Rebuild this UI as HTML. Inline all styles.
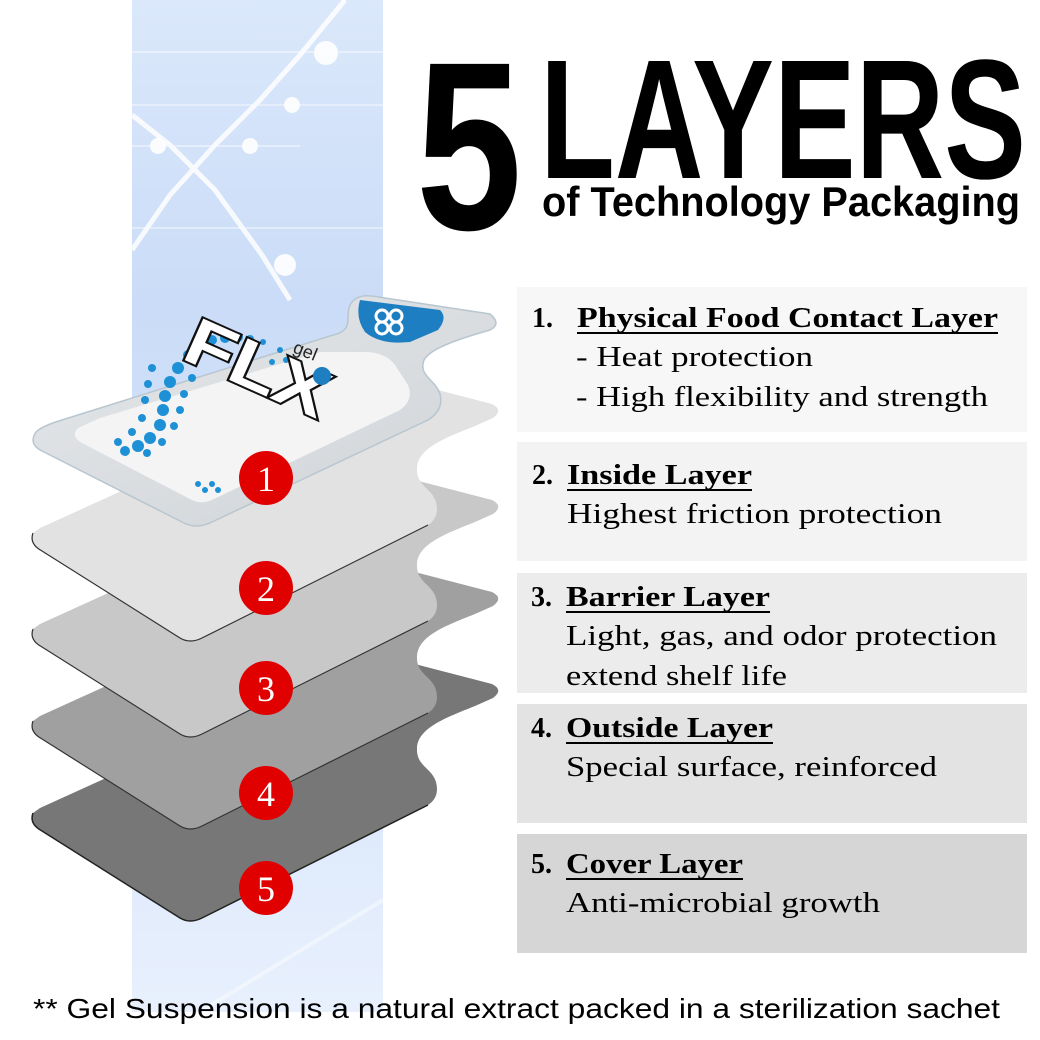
<!DOCTYPE html>
<html><head><meta charset="utf-8"><style>
html,body{margin:0;padding:0;background:#fff;}
svg{display:block;}
</style></head><body>
<svg width="1040" height="1040" viewBox="0 0 1040 1040" xmlns="http://www.w3.org/2000/svg">
<defs>
<linearGradient id="bg" x1="0" y1="0" x2="0" y2="1">
<stop offset="0" stop-color="#dbe8fb"/><stop offset="0.3" stop-color="#cadcf7"/><stop offset="0.7" stop-color="#d8e6fa"/><stop offset="1" stop-color="#e8f0fd"/>
</linearGradient>
<linearGradient id="sach" x1="0" y1="0" x2="1" y2="1">
<stop offset="0" stop-color="#e6e8ea"/><stop offset="1" stop-color="#cfd3d7"/>
</linearGradient>
</defs>
<rect x="132" y="0" width="251" height="1012" fill="url(#bg)"/>
<g stroke="#fff" fill="none" opacity="0.85">
<path d="M345,0 L300,55 L260,100 L215,145 L170,195 L132,250" stroke-width="5"/>
<path d="M132,115 L170,145 L215,190 L262,255 L290,300" stroke-width="5"/>
<path d="M132,52 L383,52 M132,105 L383,105 M132,146 L300,146 M132,228 L383,228" stroke-width="1.5" opacity="0.6"/>
<path d="M150,560 L383,420 M132,700 L383,820 M200,1012 L383,900" stroke-width="4" opacity="0.5"/>
</g>
<g fill="#fff" opacity="0.9"><circle cx="326" cy="53" r="12"/><circle cx="292" cy="105" r="8"/><circle cx="158" cy="146" r="8"/><circle cx="250" cy="146" r="8"/><circle cx="285" cy="265" r="11"/></g>

<g id="layers">
<path d="M33,813 Q29,824 42,831 L180,918 Q190,924 202,918 L428,805 Q440,797 436,782 C432,768 416,766 417,748 C418,728 445,718 475,706 L493,698 Q504,690 492,684 L380,655 L300,690 L40,808 Z" fill="#777"/>
<path d="M33,813 Q29,824 42,831 L180,918 Q190,924 202,918 L428,805" fill="none" stroke="#222" stroke-width="1.5"/>
<g transform="translate(0,-92)">
<path d="M33,813 Q29,824 42,831 L180,918 Q190,924 202,918 L428,805 Q440,797 436,782 C432,768 416,766 417,748 C418,728 445,718 475,706 L493,698 Q504,690 492,684 L380,655 L300,690 L40,808 Z" fill="#a0a0a0"/>
<path d="M33,813 Q29,824 42,831 L180,918 Q190,924 202,918 L428,805" fill="none" stroke="#333" stroke-width="1.2"/>
</g>
<g transform="translate(0,-184)">
<path d="M33,813 Q29,824 42,831 L180,918 Q190,924 202,918 L428,805 Q440,797 436,782 C432,768 416,766 417,748 C418,728 445,718 475,706 L493,698 Q504,690 492,684 L380,655 L300,690 L40,808 Z" fill="#c8c8c8"/>
<path d="M33,813 Q29,824 42,831 L180,918 Q190,924 202,918 L428,805" fill="none" stroke="#333" stroke-width="1.2"/>
</g>
<g transform="translate(0,-280)">
<path d="M33,813 Q29,824 42,831 L180,918 Q190,924 202,918 L428,805 Q440,797 436,782 C432,768 416,766 417,748 C418,728 445,718 475,706 L493,698 Q504,690 492,684 L380,655 L300,690 L40,808 Z" fill="#e2e2e2"/>
<path d="M33,813 Q29,824 42,831 L180,918 Q190,924 202,918 L428,805" fill="none" stroke="#333" stroke-width="1.2"/>
</g>
</g>

<!-- sachet -->
<path d="M36,432 Q28,444 42,451 L182,522 Q196,530 212,522 L428,420 Q444,410 440,394 C436,380 418,376 424,360 C430,348 462,338 490,330 Q502,324 490,314 L372,296 Q356,294 350,305 C344,320 356,330 330,336 L62,420 Q42,426 36,432 Z" fill="url(#sach)" stroke="#b8c6d0" stroke-width="1.5"/>
<path d="M78,428 Q70,436 82,443 L192,500 Q202,505 214,499 L400,410 Q414,400 408,385 L395,365 Q385,352 365,352 L320,352 L100,418 Z" fill="#f4f4f4"/>
<path d="M360,300 L440,310 Q448,318 438,330 L410,342 Q380,345 365,332 Q355,318 360,300 Z" fill="#1d7fc2"/>
<g stroke="#fff" stroke-width="3" fill="none"><circle cx="382" cy="316" r="6"/><circle cx="396" cy="316" r="6"/><circle cx="382" cy="328" r="6"/><circle cx="396" cy="328" r="6"/></g>
<g fill="#1e90d6">
<circle cx="200" cy="345" r="5"/><circle cx="212" cy="340" r="5"/><circle cx="225" cy="338" r="5"/><circle cx="238" cy="337" r="5"/><circle cx="250" cy="339" r="4"/><circle cx="263" cy="342" r="3"/>
<circle cx="188" cy="355" r="5"/><circle cx="178" cy="368" r="6"/><circle cx="170" cy="382" r="6"/><circle cx="165" cy="396" r="6"/><circle cx="163" cy="410" r="6"/><circle cx="160" cy="425" r="6"/><circle cx="150" cy="438" r="6"/><circle cx="138" cy="446" r="6"/><circle cx="125" cy="451" r="5"/>
<circle cx="192" cy="378" r="4"/><circle cx="184" cy="394" r="4"/><circle cx="180" cy="410" r="4"/><circle cx="174" cy="426" r="4"/><circle cx="162" cy="442" r="4"/><circle cx="147" cy="453" r="4"/>
<circle cx="152" cy="368" r="4"/><circle cx="148" cy="384" r="4"/><circle cx="145" cy="400" r="4"/><circle cx="142" cy="418" r="4"/><circle cx="132" cy="432" r="4"/><circle cx="118" cy="442" r="4"/>
<circle cx="205" cy="490" r="3"/><circle cx="212" cy="484" r="3"/><circle cx="198" cy="484" r="3"/><circle cx="218" cy="490" r="3"/><circle cx="280" cy="350" r="3"/><circle cx="272" cy="362" r="3"/><circle cx="286" cy="360" r="3"/>
</g>
<text x="0" y="0" transform="translate(180,358) rotate(24)" font-family="Liberation Sans, sans-serif" font-weight="bold" font-size="66" fill="#fff" stroke="#111" stroke-width="4" paint-order="stroke" textLength="150" lengthAdjust="spacingAndGlyphs">FLX</text>
<text x="0" y="0" transform="translate(292,352) rotate(22)" font-family="Liberation Sans, sans-serif" font-size="18" fill="#222">gel</text>
<circle cx="322" cy="376" r="9" fill="#1d7fc2"/>

<g fill="#e00000">
<circle cx="266" cy="478" r="27"/><circle cx="266" cy="588" r="27"/><circle cx="266" cy="688" r="27"/><circle cx="266" cy="793" r="27"/><circle cx="266" cy="888" r="27"/>
</g>
<g fill="#fff" font-family="Liberation Serif, serif" font-size="36" text-anchor="middle">
<text x="266" y="491">1</text><text x="266" y="601">2</text><text x="266" y="701">3</text><text x="266" y="806">4</text><text x="266" y="901">5</text>
</g>

<text x="416" y="229" font-family="Liberation Sans Narrow, Liberation Sans, sans-serif" font-weight="bold" font-size="240" textLength="106" lengthAdjust="spacingAndGlyphs">5</text>
<text x="540" y="178" font-family="Liberation Sans Narrow, Liberation Sans, sans-serif" font-weight="bold" font-size="170" textLength="486" lengthAdjust="spacingAndGlyphs">LAYERS</text>
<text x="542" y="216" font-family="Liberation Sans Narrow, Liberation Sans, sans-serif" font-weight="bold" font-size="42" textLength="478" lengthAdjust="spacingAndGlyphs">of Technology Packaging</text>

<rect x="517" y="287" width="510" height="145" fill="#f7f7f7"/>
<rect x="517" y="442" width="510" height="119" fill="#f3f3f3"/>
<rect x="517" y="573" width="510" height="120" fill="#ececec"/>
<rect x="517" y="704" width="510" height="119" fill="#e3e3e3"/>
<rect x="517" y="834" width="510" height="119" fill="#d6d6d6"/>

<g font-family="Liberation Serif, serif" font-size="28" fill="#000">
<text x="532" y="327" font-weight="bold">1.</text>
<text x="577" y="327" font-weight="bold" textLength="421" lengthAdjust="spacingAndGlyphs">Physical Food Contact Layer</text>
<rect x="577" y="332" width="421" height="2"/>
<text x="576" y="366" textLength="237" lengthAdjust="spacingAndGlyphs">- Heat protection</text>
<text x="576" y="406" textLength="412" lengthAdjust="spacingAndGlyphs">- High flexibility and strength</text>

<text x="532" y="484" font-weight="bold">2.</text>
<text x="567" y="484" font-weight="bold" textLength="185" lengthAdjust="spacingAndGlyphs">Inside Layer</text>
<rect x="567" y="489" width="185" height="2"/>
<text x="567" y="523" textLength="375" lengthAdjust="spacingAndGlyphs">Highest friction protection</text>

<text x="531" y="606" font-weight="bold">3.</text>
<text x="566" y="606" font-weight="bold" textLength="204" lengthAdjust="spacingAndGlyphs">Barrier Layer</text>
<rect x="566" y="611" width="204" height="2"/>
<text x="566" y="645" textLength="431" lengthAdjust="spacingAndGlyphs">Light, gas, and odor protection</text>
<text x="566" y="685" textLength="221" lengthAdjust="spacingAndGlyphs">extend shelf life</text>

<text x="531" y="737" font-weight="bold">4.</text>
<text x="566" y="737" font-weight="bold" textLength="207" lengthAdjust="spacingAndGlyphs">Outside Layer</text>
<rect x="566" y="742" width="207" height="2"/>
<text x="566" y="776" textLength="371" lengthAdjust="spacingAndGlyphs">Special surface, reinforced</text>

<text x="531" y="873" font-weight="bold">5.</text>
<text x="566" y="873" font-weight="bold" textLength="177" lengthAdjust="spacingAndGlyphs">Cover Layer</text>
<rect x="566" y="878" width="177" height="2"/>
<text x="566" y="912" textLength="314" lengthAdjust="spacingAndGlyphs">Anti-microbial growth</text>
</g>

<text x="33" y="1018" font-family="Liberation Sans Narrow, Liberation Sans, sans-serif" font-size="28" fill="#000" textLength="967" lengthAdjust="spacingAndGlyphs">** Gel Suspension is a natural extract packed in a sterilization sachet</text>
</svg>
</body></html>
